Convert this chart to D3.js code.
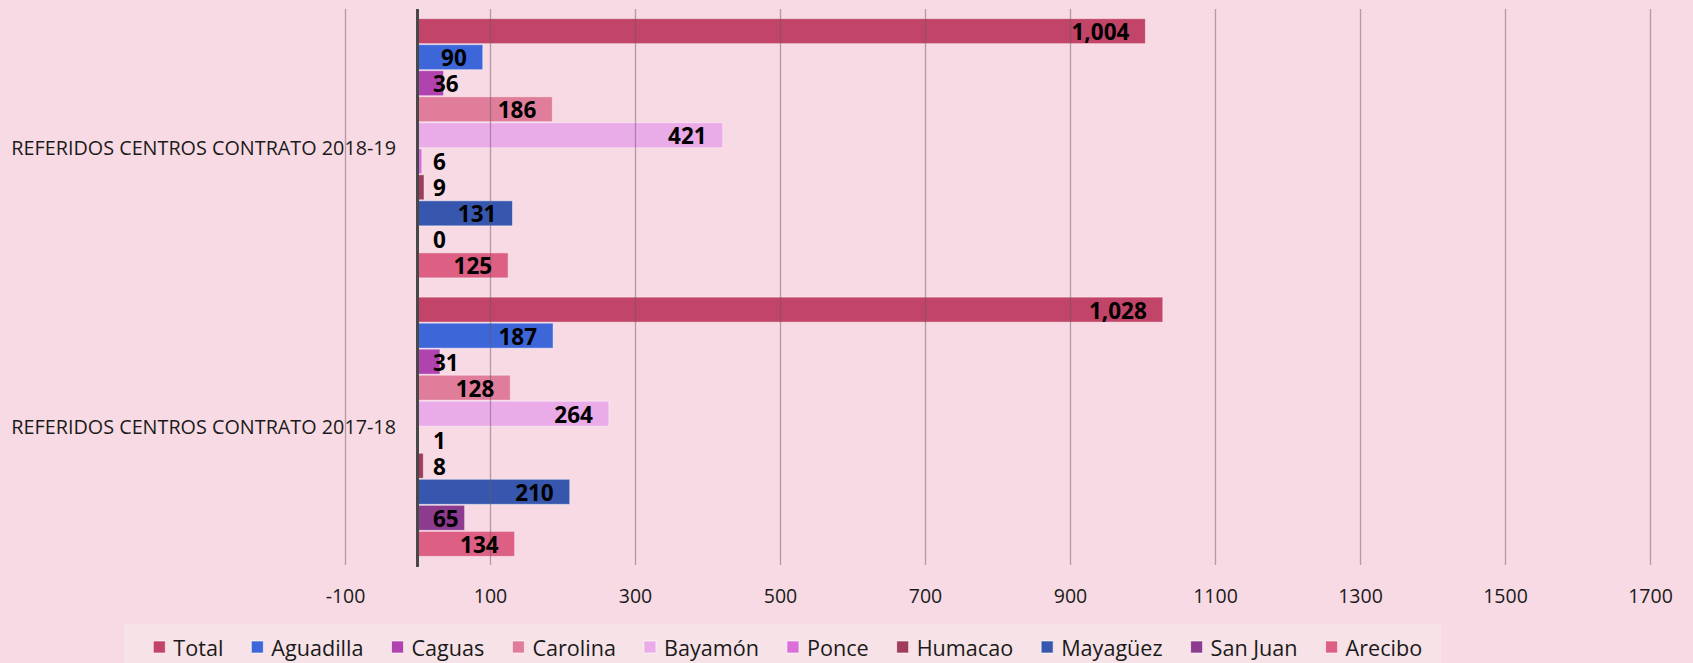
<!DOCTYPE html>
<html>
<head>
<meta charset="utf-8">
<script src="https://cdn.jsdelivr.net/npm/d3@7/dist/d3.min.js"></script>
<style>
  html, body { margin: 0; padding: 0; background: #f8dae4; }
  svg { display: block; }
  text { font-family: "Segoe UI", "Open Sans", "Noto Sans", sans-serif; }
</style>
</head>
<body>
<svg id="chart" width="1693" height="663"></svg>
<script>
const categories = ["REFERIDOS CENTROS CONTRATO 2018-19", "REFERIDOS CENTROS CONTRATO 2017-18"];
const series = ["Total", "Aguadilla", "Caguas", "Carolina", "Bayamón", "Ponce", "Humacao", "Mayagüez", "San Juan", "Arecibo"];
const values2018_19 = [1004, 90, 36, 186, 421, 6, 9, 131, 0, 125];
const values2017_18 = [1028, 187, 31, 128, 264, 1, 8, 210, 65, 134];
const seriesColors = ["#c24468", "#3d67d9", "#b043b0", "#e07d9a", "#eaabe9", "#da6fd9", "#a03c5c", "#3757ae", "#8c3b8e", "#dd5f83"];
const tickValues = [-100, 100, 300, 500, 700, 900, 1100, 1300, 1500, 1700];
const tickLabels = ["-100", "100", "300", "500", "700", "900", "1100", "1300", "1500", "1700"];

const valuesByCategory = [values2018_19, values2017_18];
const rows = [];
categories.forEach((c, ci) => {
  series.forEach((s, si) => rows.push({ category: c, series: s, value: valuesByCategory[ci][si], color: seriesColors[si] }));
});

const svg = d3.select("#chart");
const W = 1693, H = 663;
svg.append("rect").attr("width", W).attr("height", H).attr("fill", "#f8dae4");

const plotTop = 9, plotBottom = 566;
const x = d3.scaleLinear().domain([-100, 1700]).range([345, 1650]);
const y0 = d3.scaleBand().domain(categories).range([plotTop, plotBottom]).paddingInner(0.0655).paddingOuter(0.0328);
const y1 = d3.scaleBand().domain(series).range([0, y0.bandwidth()]);

// bars
const barG = svg.append("g");
barG.selectAll("rect").data(rows).join("rect")
  .attr("x", x(0))
  .attr("y", d => y0(d.category) + y1(d.series) + 0.5)
  .attr("width", d => Math.max(0, x(d.value) - x(0)))
  .attr("height", y1.bandwidth() - 1)
  .attr("fill", d => d.color)
  .attr("stroke", "rgba(255,255,255,0.45)")
  .attr("stroke-width", 1);

// grid + x axis
const xAxis = d3.axisBottom(x).tickValues(tickValues).tickSize(-(565 - plotTop)).tickPadding(24.5)
  .tickFormat((d, i) => tickLabels[i]);
const gx = svg.append("g").attr("transform", "translate(0,565)").call(xAxis);
gx.select(".domain").remove();
gx.selectAll(".tick line").attr("stroke", "rgba(110,90,100,0.5)").attr("stroke-width", 1.3);
gx.selectAll(".tick text").attr("font-size", "19.5px").attr("fill", "#1a1a1a")
  .style("font-family", '"Segoe UI", "Open Sans", sans-serif');

// zero axis line
svg.append("line")
  .attr("x1", x(0)).attr("x2", x(0))
  .attr("y1", plotTop).attr("y2", plotBottom + 1)
  .attr("stroke", "#484848").attr("stroke-width", 3);

// category axis
const yAxis = d3.axisLeft(y0).tickSize(0).tickPadding(0);
const gy = svg.append("g").attr("transform", "translate(396,0)").call(yAxis);
gy.select(".domain").remove();
gy.selectAll(".tick text").attr("font-size", "19.8px").attr("fill", "#1a1a1a").attr("dy", "0.36em")
  .style("font-family", '"Segoe UI", "Open Sans", sans-serif');

// value labels
const fmt = d3.format(",");
const labG = svg.append("g");
labG.selectAll("text").data(rows).join("text")
  .attr("y", d => y0(d.category) + y1(d.series) + y1.bandwidth() / 2)
  .attr("dy", "0.4em")
  .attr("text-anchor", "end")
  .attr("font-size", "22.5px")
  .attr("font-weight", "bold")
  .attr("fill", "#000")
  .text(d => fmt(d.value))
  .each(function (d) {
    const w = this.getComputedTextLength();
    const xr = Math.max(x(d.value) - 16, x(0) + 15.5 + w);
    d3.select(this).attr("x", xr);
  });

// legend
const legG = svg.append("g");
legG.append("rect").attr("x", 124).attr("y", 624).attr("width", 1317).attr("height", 40).attr("fill", "#f6e2e7");
const items = legG.selectAll("g.item").data(series.map((s, i) => ({ s, c: seriesColors[i] }))).join("g").attr("class", "item");
items.append("rect").attr("width", 12).attr("height", 12).attr("y", 641)
  .attr("fill", d => d.c).attr("stroke", "rgba(255,255,255,0.6)").attr("stroke-width", 1);
items.append("text").attr("y", 656).attr("font-size", "21.6px").attr("fill", "#1a1a1a").text(d => d.s);
let cx = 0;
const pos = [];
items.each(function () {
  const t = d3.select(this).select("text").node();
  const w = t.getComputedTextLength();
  pos.push(cx);
  cx += 20 + w + 28;
});
const totalW = cx - 28;
const startX = 787.75 - totalW / 2;
items.each(function (d, i) {
  const g = d3.select(this);
  g.select("rect").attr("x", startX + pos[i]);
  g.select("text").attr("x", startX + pos[i] + 20);
});
</script>
</body>
</html>
